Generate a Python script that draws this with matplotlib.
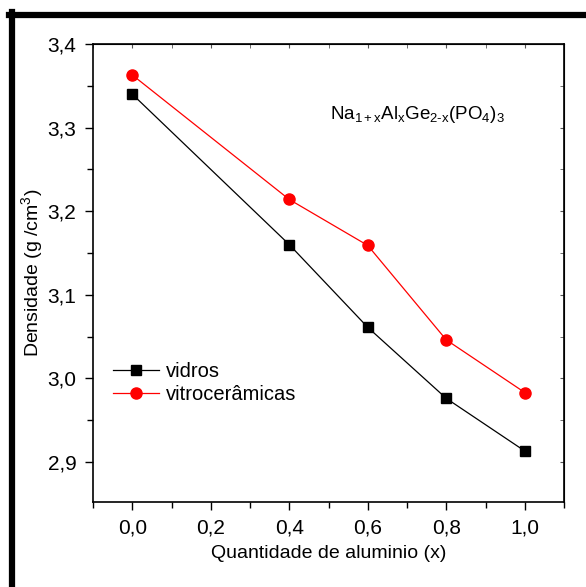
import matplotlib
matplotlib.use("Agg")
import matplotlib.pyplot as plt
from matplotlib.ticker import MultipleLocator, FuncFormatter
from matplotlib.lines import Line2D

plt.rcParams['font.family'] = ['Liberation Sans', 'DejaVu Sans']
plt.rcParams['mathtext.fontset'] = 'custom'
plt.rcParams['mathtext.rm'] = 'Liberation Sans'
plt.rcParams['mathtext.it'] = 'Liberation Sans'

# dados
x_al = [0.0, 0.4, 0.6, 0.8, 1.0]
dens_vidros = [3.340, 3.160, 3.061, 2.976, 2.913]
dens_vitro = [3.363, 3.214, 3.159, 3.046, 2.983]

fig = plt.figure(figsize=(5.86, 5.87), dpi=100)
ax = fig.add_axes([0.1587, 0.1448, 0.8038, 0.7802])

ax.plot(x_al, dens_vidros, color='black', lw=0.9, marker='s', markersize=7, label='vidros')
ax.plot(x_al, dens_vitro, color='red', lw=0.9, marker='o', markersize=8, label='vitrocerâmicas')

ax.set_xlim(-0.1, 1.1)
ax.set_ylim(2.852, 3.4)
ax.xaxis.set_major_locator(MultipleLocator(0.2))
ax.xaxis.set_minor_locator(MultipleLocator(0.1))
ax.yaxis.set_major_locator(MultipleLocator(0.1))
ax.yaxis.set_minor_locator(MultipleLocator(0.05))
virgula = FuncFormatter(lambda v, p: f"{v:.1f}".replace('.', ','))
ax.xaxis.set_major_formatter(virgula)
ax.yaxis.set_major_formatter(virgula)
ax.tick_params(which='major', direction='out', length=6, width=1, labelsize=15, pad=6)
ax.tick_params(which='minor', direction='out', length=4, width=1)
for s in ax.spines.values():
    s.set_linewidth(1.2)

# ticks internos no topo e à direita
sec = ax.secondary_xaxis('top')
sec.xaxis.set_major_locator(MultipleLocator(0.2))
sec.xaxis.set_minor_locator(MultipleLocator(0.1))
sec.tick_params(which='both', direction='in', length=3, labeltop=False, color='#555555')
secy = ax.secondary_yaxis('right')
secy.yaxis.set_major_locator(MultipleLocator(0.1))
secy.yaxis.set_minor_locator(MultipleLocator(0.05))
secy.tick_params(which='both', direction='in', length=3, labelright=False, color='#555555')

ax.set_xlabel('Quantidade de aluminio (x)', fontsize=14, labelpad=5)
ax.set_ylabel('Densidade (g /cm$^3$)', fontsize=14, labelpad=2)

ax.text(0.505, 3.31, r'Na$_{1+x}$Al$_x$Ge$_{\text{2-x}}$(PO$_4$)$_3$', fontsize=13.5)

ax.legend(loc='center left', bbox_to_anchor=(0.0, 0.26), frameon=False, fontsize=14.5,
          handlelength=2.3, handletextpad=0.3, borderaxespad=0.6, labelspacing=0.2)

# moldura externa (apenas esquerda e topo visíveis)
fig.add_artist(Line2D([12/586, 12/586], [0, 1 - 12/587], color='black', lw=4.5,
                      transform=fig.transFigure))
fig.add_artist(Line2D([9/586, 1], [1 - 15/587, 1 - 15/587], color='black', lw=4.5,
                      transform=fig.transFigure))

fig.savefig('out.png', dpi=100)
